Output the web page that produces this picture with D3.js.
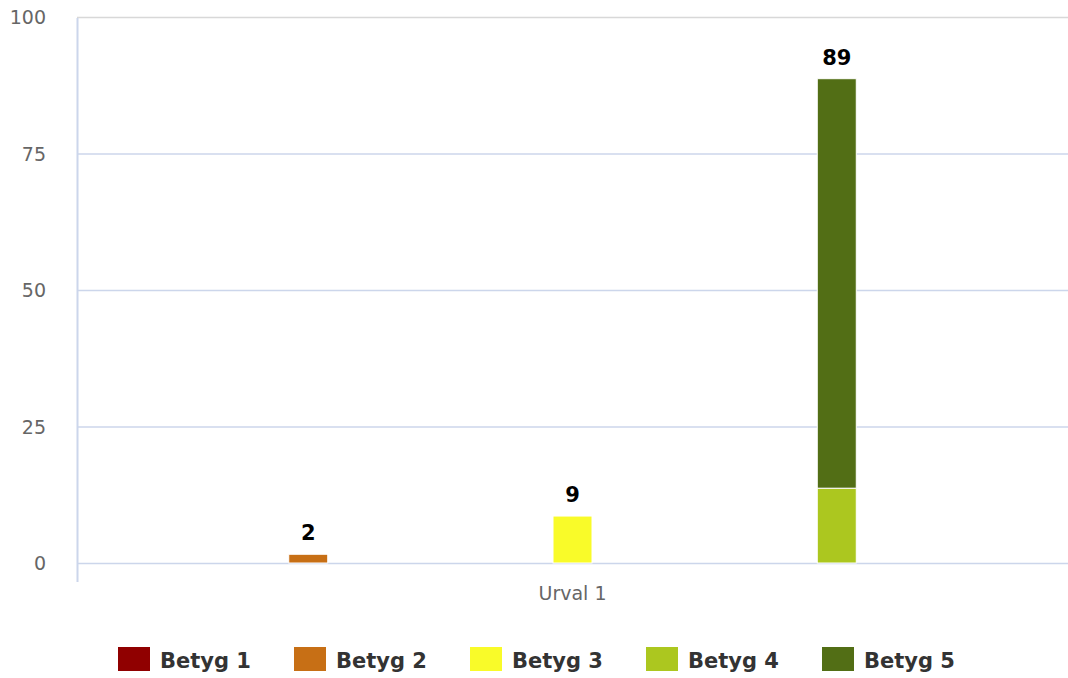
<!DOCTYPE html>
<html>
<head>
<meta charset="utf-8">
<script src="https://cdn.jsdelivr.net/npm/d3@7"></script>
<style>
  body { margin: 0; background: #fff; }
  svg { display: block; font-family: "DejaVu Sans", sans-serif; }
</style>
</head>
<body>
<script>
'use strict';

// chart data
const categories = ["Urval 1"];
const seriesNames = ["Betyg 1", "Betyg 2", "Betyg 3", "Betyg 4", "Betyg 5"];
const seriesValues = [0, 1.6, 8.6, 13.7, 75.0];
const seriesStack = [0, 0, 1, 2, 2];
const seriesColors = ["#900000", "#c76f15", "#f9fb29", "#acc71f", "#526e15"];
const yTicks = [0, 25, 50, 75, 100];

(function() {
  const width = 1068, height = 678;
  const plot = { left: 77, right: 1068, top: 17, bottom: 563 };

  const svg = d3.select('body').append('svg')
    .attr('width', width)
    .attr('height', height);

  // scales
  const yScale = d3.scaleLinear()
    .domain([0, 100])
    .range([plot.bottom, plot.top]);

  const xCat = d3.scaleBand()
    .domain(categories)
    .range([plot.left, plot.right]);

  const stacks = Array.from(new Set(seriesStack));
  const groupPad = xCat.bandwidth() * 0.1;
  const xStack = d3.scaleBand()
    .domain(stacks)
    .range([groupPad, xCat.bandwidth() - groupPad]);
  const barWidth = 39;

  // grid lines
  svg.append('g')
    .selectAll('line')
    .data(yTicks)
    .enter()
    .append('line')
      .attr('x1', plot.left)
      .attr('x2', plot.right)
      .attr('y1', d => yScale(d) + 0.5)
      .attr('y2', d => yScale(d) + 0.5)
      .attr('stroke', d => d === 100 ? '#d8d8d8' : '#ccd6eb')
      .attr('stroke-width', d => d === 100 ? 1.5 : 1.5);

  // y-axis line
  svg.append('line')
    .attr('x1', plot.left + 0.5)
    .attr('x2', plot.left + 0.5)
    .attr('y1', plot.top + 1)
    .attr('y2', plot.bottom + 19)
    .attr('stroke', '#ccd6eb')
    .attr('stroke-width', 2);

  // y tick labels
  svg.append('g')
    .selectAll('text')
    .data(yTicks)
    .enter()
    .append('text')
      .attr('x', 46)
      .attr('y', d => yScale(d) + 7)
      .attr('text-anchor', 'end')
      .style('font-size', '19px')
      .attr('fill', '#666666')
      .text(d => d);

  // x category label
  svg.append('g')
    .selectAll('text')
    .data(categories)
    .enter()
    .append('text')
      .attr('x', d => xCat(d) + xCat.bandwidth() / 2)
      .attr('y', 600)
      .attr('text-anchor', 'middle')
      .style('font-size', '19px')
      .attr('fill', '#666666')
      .text(d => d);

  // stack the series
  const stackTop = {};
  const bars = seriesNames.map((name, i) => {
    const s = seriesStack[i];
    const y0 = stackTop[s] || 0;
    const y1 = y0 + seriesValues[i];
    stackTop[s] = y1;
    return { name: name, stack: s, y0: y0, y1: y1, color: seriesColors[i], cat: categories[0] };
  });

  const stackX = function(cat, s) {
    return xCat(cat) + xStack(s) + xStack.bandwidth() / 2;
  };

  svg.append('g')
    .selectAll('rect')
    .data(bars.filter(d => d.y1 > d.y0))
    .enter()
    .append('rect')
      .attr('x', d => stackX(d.cat, d.stack) - barWidth / 2)
      .attr('y', d => yScale(d.y1))
      .attr('width', barWidth)
      .attr('height', d => yScale(d.y0) - yScale(d.y1))
      .attr('fill', d => d.color)
      .attr('stroke', '#ffffff')
      .attr('stroke-width', 1);

  // stack total labels
  const totals = stacks.map(s => ({ stack: s, total: stackTop[s] }));
  svg.append('g')
    .selectAll('text')
    .data(totals)
    .enter()
    .append('text')
      .attr('x', d => stackX(categories[0], d.stack))
      .attr('y', d => yScale(d.total) - 14)
      .attr('text-anchor', 'middle')
      .style('font-size', '21px')
      .style('font-weight', 'bold')
      .attr('fill', '#000000')
      .attr('stroke', '#ffffff')
      .attr('stroke-width', 3)
      .attr('paint-order', 'stroke')
      .text(d => Math.round(d.total));

  // legend
  const legend = svg.append('g');
  const item = legend.selectAll('g')
    .data(seriesNames)
    .enter()
    .append('g')
      .attr('transform', (d, i) => 'translate(' + (118 + i * 176) + ', 647)');

  item.append('rect')
    .attr('width', 32)
    .attr('height', 24)
    .attr('fill', (d, i) => seriesColors[i]);

  item.append('text')
    .attr('x', 42)
    .attr('y', 21)
    .style('font-size', '21px')
    .style('font-weight', 'bold')
    .attr('fill', '#333333')
    .text(d => d);
})();
</script>
</body>
</html>
